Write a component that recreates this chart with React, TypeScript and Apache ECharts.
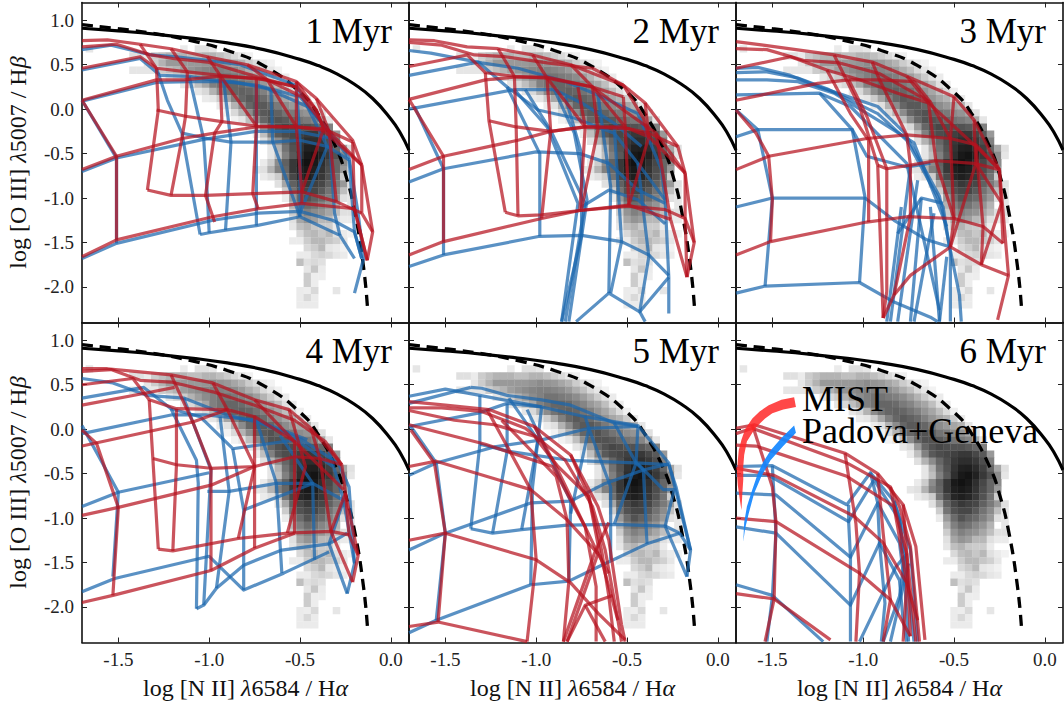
import React, { useEffect, useRef } from "react";
import * as echarts from "echarts";

const xTicks = [-1.5, -1.0, -0.5, 0.0];
const yTicks = [1.0, 0.5, 0.0, -0.5, -1.0, -1.5, -2.0];
const panelLabels = ["1 Myr", "2 Myr", "3 Myr", "4 Myr", "5 Myr", "6 Myr"];

const maxLineX = [-1.7, -1.5, -1.3, -1.1, -0.9, -0.7, -0.5, -0.4, -0.3, -0.2, -0.1, 0.0, 0.05, 0.1];
const maxLineY = [0.91, 0.88, 0.845, 0.8, 0.745, 0.67, 0.56, 0.49, 0.4, 0.28, 0.12, -0.11, -0.26, -0.46];
const sfLineX = [-1.7, -1.5, -1.3, -1.1, -0.9, -0.7, -0.5, -0.4, -0.3, -0.25, -0.2, -0.15, -0.127];
const sfLineY = [0.95, 0.905, 0.85, 0.77, 0.66, 0.49, 0.19, -0.06, -0.44, -0.73, -1.14, -1.78, -2.28];

// density: first column per row, then grey percent. Rows run downward from y = 0.72
const heatFirstCol = [0, 6, 8, 6, 11, 13, 15, 16, 18, 19, 20, 22, 23, 24, 25, 25, 24, 23, 24, 26, 27, 27, 28, 28, 28, 28, 29, 28, 30, 29, 29, 30, 30, 30, 29, 29];
const heatCells = [
  [10, 0, 0, 0, 0, 0, 0, 0, 0, 0, 0, 0, 0, 8, 0, 12, 12, 10],
  [12, 12, 8, 20, 25, 30, 30, 30, 25, 25, 30, 30, 25, 20, 15, 10, 6],
  [10, 20, 30, 40, 40, 40, 40, 40, 42, 45, 42, 40, 35, 30, 20, 14, 8, 5],
  [10, 10, 10, 10, 20, 25, 30, 38, 42, 45, 48, 50, 50, 48, 45, 40, 32, 25, 15, 10, 5],
  [10, 15, 20, 30, 38, 45, 50, 55, 55, 52, 50, 45, 38, 30, 20, 12, 8],
  [10, 15, 25, 35, 50, 55, 60, 60, 58, 52, 48, 40, 35, 25, 12, 8],
  [10, 15, 30, 45, 55, 60, 62, 60, 55, 50, 42, 35, 25, 14, 6],
  [8, 10, 20, 35, 50, 60, 65, 62, 58, 50, 42, 35, 30, 20, 8],
  [8, 12, 30, 45, 60, 65, 65, 60, 52, 45, 40, 35, 30, 10],
  [5, 15, 30, 45, 60, 65, 68, 62, 55, 52, 45, 42, 35, 12],
  [5, 10, 25, 45, 60, 68, 68, 65, 60, 55, 52, 48, 35, 10],
  [10, 15, 40, 60, 68, 72, 70, 68, 68, 65, 60, 50],
  [8, 25, 50, 65, 70, 72, 75, 78, 78, 72, 65, 40],
  [12, 30, 45, 60, 70, 78, 82, 82, 78, 70, 50],
  [10, 30, 55, 68, 80, 87, 88, 83, 75, 60, 35, 12],
  [10, 25, 50, 65, 82, 90, 92, 87, 78, 68, 45, 10],
  [8, 20, 45, 62, 78, 90, 93, 90, 82, 72, 60, 45],
  [10, 12, 30, 50, 60, 78, 88, 90, 88, 80, 70, 60, 40],
  [8, 12, 20, 55, 72, 85, 88, 85, 78, 68, 55, 20],
  [12, 35, 62, 72, 78, 75, 72, 62, 52, 40, 12],
  [20, 55, 68, 72, 72, 65, 55, 45, 25, 10],
  [8, 40, 58, 68, 62, 58, 50, 40, 12, 10],
  [30, 50, 58, 55, 48, 42, 30, 0, 10],
  [20, 42, 50, 45, 42, 35, 25, 12, 12],
  [12, 35, 42, 38, 28, 28, 12, 8, 8],
  [10, 25, 30, 22, 20, 20, 8],
  [15, 25, 28, 22, 28, 12, 8, 5],
  [8, 8, 20, 28, 28, 22, 18, 10],
  [15, 20, 28, 10, 8, 5],
  [8, 8, 15, 18, 15, 10, 8],
  [25, 12, 15, 12],
  [10, 22, 8],
  [20, 7, 7],
  [20, 7],
  [8, 7, 15, 0, 0, 10],
  [8, 15, 8],
];
const heatLast = [[29, 8, 8, 8]];

const panel1Red = [
  [-1.7,.77,-1.56,.78,-1.38,.73,-1.21,.68,-1.01,.59,-.79,.5,-.52,.31,-.41,.12,-.21,-.35,-.16,-.63,-.1,-1.38,-.13,-1.7],
  [-1.7,.7,-1.51,.73,-1.32,.61,-1.2,.57,-1.01,.53,-.68,.33,-.52,.25,-.41,-.01,-.37,-.22],
  [-1.7,.46,-1.38,.59,-1.29,.46,-1.12,.42,-.94,.38,-.68,.33,-.49,.14,-.34,-.25,-.16,-.63],
  [-1.7,.1,-1.29,.33,-1.14,.33,-.94,.37,-.74,.35,-.52,.25],
  [-1.29,-.01,-1.13,-.08,-.93,-.14,-.74,-.19,-.52,-.2,-.37,-.22,-.21,-.37],
  [-1.7,-.68,-1.51,-.53,-1.15,-.33,-.97,-.27,-.74,-.2,-.52,-.2,-.37,-.24,-.16,-.63],
  [-1.34,-.91,-1.21,-.97,-1.02,-.97,-.76,-.95,-.49,-.93,-.3,-1.04,-.16,-1.17],
  [-1.7,-1.66,-1.51,-1.47,-.98,-1.21,-.73,-1.12,-.49,-1.06,-.2,-1.12,-.13,-1.7],
  [-1.7,.1,-1.51,-.53,-1.51,-1.47],
  [-1.29,.46,-1.28,-.01,-1.34,-.91],
  [-1.12,.42,-1.13,-.08,-1.15,-.33,-1.21,-.97],
  [-.94,.38,-.93,-.14,-.97,-.27,-1.02,-.97,-.97,-1.27],
  [-.74,.35,-.74,-.19,-.76,-.95,-.73,-1.12],
  [-.52,.31,-.52,-.2,-.49,-.93,-.49,-1.06],
  [-1.38,.73,-1.29,.46],
  [-1.21,.68,-1.12,.42],
  [-1.01,.59,-.94,.38,-.74,-.19],
  [-.79,.5,-.68,.33,-.52,-.2],
  [-.52,.31,-.41,-.01,-.37,-.22,-.49,-.93],
  [-.41,.12,-.34,-.25,-.3,-1.04],
  [-.16,-.63,-.16,-1.17,-.1,-1.38],
  [-.21,-.37,-.2,-1.12,-.13,-1.7],
];
const panel1Blue = [
  [-1.7,.67,-1.54,.72,-1.32,.61,-1.18,.59,-1.01,.55,-.83,.5,-.52,.27,-.46,.03,-.34,-.25,-.23,-.55,-.18,-1.17,-.15,-1.68,-.2,-2.07],
  [-1.7,.44,-1.38,.57,-1.27,.38,-1.11,.37,-.92,.31,-.74,.27,-.5,.14,-.34,-.25],
  [-1.7,.09,-1.29,.3,-1.11,.31,-.87,.31,-.68,.23,-.46,.03],
  [-1.15,-.27,-1.01,-.33,-.88,-.37,-.65,-.37,-.5,-.35,-.35,-.42,-.23,-.57],
  [-1.7,-.7,-1.51,-.55,-1.03,-.34,-.74,-.25,-.52,-.25,-.32,-.33],
  [-1.05,-1.41,-1,-1.39,-.91,-1.36,-.74,-1.31,-.5,-1.21,-.28,-1.42,-.2,-1.68],
  [-1.7,-1.68,-1.51,-1.51,-.98,-1.25,-.73,-1.17,-.5,-1.15,-.32,-1.25,-.2,-1.38,-.16,-1.68],
  [-1.29,.46,-1.23,.1,-1.15,-.27,-1.05,-1.41],
  [-1.11,.37,-1.03,-.34,-1.01,-.97,-1,-1.39],
  [-.92,.31,-.88,-.37,-.91,-1.36],
  [-.74,.27,-.74,-.25,-.74,-1.31],
  [-.66,.22,-.65,-.37,-.5,-1.21],
  [-.52,.27,-.5,-.35,-.5,-1.21],
  [-.46,.03,-.35,-.42,-.5,-1.17],
  [-.34,-.25,-.31,-1.17,-.28,-1.42],
  [-.23,-.57,-.2,-1.38,-.16,-1.68],
  [-1.51,-.55,-1.51,-1.51],
  [-1.7,.1,-1.51,-.55],
];

const panel2Red = [
  [-1.7,.78,-1.56,.77,-1.38,.7,-1.21,.68,-1.02,.61,-.81,.5,-.52,.27,-.4,.07,-.22,-.42,-.18,-.72,-.13,-1.5,-.17,-1.89],
  [-1.7,.75,-1.52,.72,-1.34,.61,-1.17,.59,-.94,.52,-.69,.46,-.52,.27],
  [-1.7,.48,-1.38,.61,-1.28,.41,-1.12,.37,-.94,.35,-.69,.25,-.52,-.01,-.34,-.27,-.18,-.72],
  [-1.7,.11,-1.28,.33,-1.12,.36,-.94,.36,-.69,.25,-.52,.14],
  [-1.26,-.13,-1.11,-.2,-.92,-.25,-.73,-.2,-.53,-.2,-.38,-.27,-.22,-.42],
  [-1.7,-.68,-1.51,-.53,-1.1,-.35,-.92,-.25,-.73,-.2,-.49,-.22,-.38,-.31,-.18,-.72],
  [-1.17,-1.16,-1.1,-1.2,-.97,-1.19,-.76,-1.14,-.49,-1.08,-.26,-1.24],
  [-1.7,-1.64,-1.51,-1.49,-.97,-1.23,-.76,-1.14,-.49,-1.09,-.29,-1.13,-.18,-1.23,-.17,-1.89],
  [-1.7,.11,-1.51,-.53,-1.51,-1.49],
  [-1.28,.41,-1.26,-.13,-1.17,-1.16],
  [-1.12,.37,-1.11,-.2,-1.1,-1.2],
  [-.94,.35,-.92,-.25,-.97,-1.23],
  [-.77,.25,-.73,-.2,-.76,-1.14],
  [-.69,.25,-.66,-.23,-.75,-1.12],
  [-.52,.14,-.51,-.2,-.49,-1.08],
  [-.4,.07,-.38,-.31,-.49,-1.08],
  [-.34,-.27,-.26,-1.24,-.17,-1.89],
  [-.18,-.72,-.18,-1.23,-.13,-1.5],
  [-1.21,.68,-1.12,.37],
  [-1.02,.61,-.94,.35,-.73,-.2],
  [-.81,.5,-.69,.25,-.51,-.2],
  [-.52,.27,-.41,-.1,-.38,-.31],
];
const panel2Blue = [
  [-1.7,.66,-1.58,.63,-1.3,.52,-1.1,.46,-.84,.31,-.66,.16,-.44,-.05,-.31,-.68,-.29,-1.02,-.27,-1.89,-.27,-2.3],
  [-1.7,.38,-1.32,.53,-1.16,.25,-.99,-.01,-.79,-.1,-.57,-.27,-.44,-.61,-.29,-1.02],
  [-1.7,0,-1.12,.22,-.9,.22,-.75,.07,-.57,-.16,-.42,-.42],
  [-1.7,-.82,-1.51,-.67,-1,-.48,-.76,-.5,-.6,-.61,-.44,-.91,-.29,-1.06],
  [-1.7,-1.77,-1.51,-1.64,-.98,-1.43,-.75,-1.42,-.53,-1.49,-.38,-1.64,-.27,-1.87],
  [-.78,-2.39,-.6,-2.07,-.43,-2.28,-.27,-1.89],
  [-.75,-1.1,-.6,-.91,-.44,-1.02,-.29,-1.29],
  [-1.67,.03,-1.51,-.67,-1.51,-1.64],
  [-1.16,.25,-.98,-.5,-.98,-1.43],
  [-1.12,.22,-.94,-.2,-.77,-1.06,-.86,-2.39],
  [-1.06,.22,-.92,-.24,-.73,-1.06,-.84,-2.39],
  [-.9,.22,-.79,-.27,-.72,-1.02,-.82,-2.39],
  [-.84,.14,-.75,-.5,-.75,-1.42,-.86,-2.39],
  [-.66,.16,-.59,-.87,-.6,-2.07],
  [-.57,-.2,-.53,-1.49,-.59,-2.07],
  [-.44,-.61,-.38,-1.66,-.43,-2.28],
  [-.43,-2.28,-.4,-2.39],
];

const panel3Red = [
  [-1.7,.76,-1.55,.72,-1.37,.67,-1.16,.61,-.95,.53,-.76,.37,-.5,.14,-.39,-.12,-.25,-.68,-.2,-1.87,-.26,-2.37],
  [-1.7,.68,-1.53,.67,-1.33,.55,-1.13,.52,-.91,.4,-.63,.08,-.52,-.33],
  [-1.7,.46,-1.4,.59,-1.2,.44,-1.02,.33,-.81,.18,-.64,.07,-.39,-.4,-.25,-.68],
  [-1.7,.1,-1.25,.29,-1.08,.33,-.91,.33,-.72,.31,-.63,.08],
  [-.92,-.63,-.87,-.67,-.74,-.63,-.6,-.58,-.39,-.61,-.25,-.68],
  [-1.7,-.68,-1.52,-.53,-.98,-.33,-.76,-.29,-.52,-.33,-.38,-.4,-.25,-.68],
  [-1.7,-1.64,-1.51,-1.49,-.98,-1.27,-.76,-1.21,-.5,-1.23,-.34,-1.32,-.23,-1.51],
  [-.89,-2.35,-.83,-2.09,-.74,-1.87,-.52,-1.55,-.35,-1.75,-.2,-1.87],
  [-1.7,-.01,-1.59,-.27,-1.52,-.53,-1.5,-1.02,-1.51,-1.49],
  [-1.2,.44,-1.07,-.05,-.97,-.35,-.97,-1.27],
  [-1.16,.61,-1.02,.03,-.92,-.63,-.89,-2.35],
  [-1.08,.33,-.98,-.08,-.87,-.67,-.87,-2.05,-.89,-2.35],
  [-.95,.53,-.91,.33,-.76,-.29,-.74,-.63,-.74,-1.21,-.83,-2.09],
  [-.76,.37,-.64,.07,-.6,-.58,-.5,-1.23,-.52,-1.55],
  [-.5,.14,-.52,-.33,-.5,-1.23],
  [-.39,-.12,-.38,-.61,-.52,-1.55],
  [-.38,-.4,-.34,-1.32,-.35,-1.75],
  [-.25,-.68,-.24,-1.07,-.35,-1.75],
  [-.38,-.61,-.24,-1.05,-.23,-1.51],
];
const panel3Blue = [
  [-1.7,.46,-1.58,.47,-1.4,.38,-1.24,.25,-.92,.03,-.77,-.27,-.58,-.98,-.47,-2.09,-.46,-2.39],
  [-1.7,.41,-1.53,.42,-1.36,.35,-1.2,.23,-.92,-.05,-.76,-.35,-.56,-1.1,-.52,-1.62,-.52,-2.39],
  [-1.7,.33,-1.53,.33,-1.36,.31,-1.16,.18,-.89,-.16,-.72,-.38,-.54,-1.32],
  [-1.7,.16,-1.24,.18,-1.07,.03,-.76,-.61,-.58,-2.26],
  [-1.7,-.31,-1.58,-.23,-1.06,-.23,-.98,-.53,-.76,-.65,-.63,-.61],
  [-1.7,-1.1,-1.5,-1,-.99,-1,-.83,-1.25,-.65,-1.47,-.52,-1.55],
  [-1.7,-2.07,-1.54,-1.99,-1.02,-1.95,-.83,-2.17,-.63,-2.34,-.59,-2.39],
  [-.81,-1.4,-.68,-1,-.56,-1.06],
  [-1.7,-.01,-1.58,-.23,-1.5,-1,-1.54,-1.99],
  [-1.24,.18,-1.06,-.23,-.99,-.99,-1.02,-1.95],
  [-.79,-1.1,-.87,-2.39],
  [-.74,-.65,-.85,-2.39],
  [-.7,-.8,-.81,-2.39],
  [-.68,-1,-.74,-2.39],
  [-.63,-1.1,-.58,-2.39],
  [-.61,-1.17,-.72,-2.39],
  [-.54,-1.66,-.58,-2.39],
];

const panel4Red = [
  [-1.7,.68,-1.56,.68,-1.41,.65,-1.21,.61,-.98,.52,-.75,.33,-.56,.22,-.44,.01,-.27,-.4,-.25,-.72,-.18,-1.42,-.21,-1.72],
  [-1.7,.65,-1.54,.67,-1.38,.55,-1.21,.53,-.98,.42,-.75,.27,-.53,.1,-.36,-.14,-.27,-.4],
  [-1.7,.5,-1.42,.57,-1.33,.33,-1.18,.23,-.9,.22,-.75,.14,-.53,-.14,-.26,-.68],
  [-1.7,.27,-1.34,.41,-1.19,.47],
  [-1.7,-.19,-1.09,.08,-.9,.22],
  [-1.31,-.33,-1.18,-.4,-.99,-.44,-.75,-.42,-.53,-.31,-.39,-.33,-.27,-.4],
  [-1.7,-.97,-1.5,-.88,-.99,-.63,-.75,-.42],
  [-1.28,-1.35,-1.2,-1.37,-.84,-1.23,-.57,-1.17,-.33,-1.15,-.23,-1.19],
  [-1.7,-1.95,-1.53,-1.87,-.99,-1.59,-.75,-1.34,-.53,-1.17],
  [-1.7,-.01,-1.62,-.16,-1.5,-.88,-1.53,-1.87],
  [-1.33,.33,-1.31,-.33,-1.28,-1.35],
  [-1.18,.23,-1.18,-.4,-1.2,-1.37],
  [-1.09,.08,-.99,-.44,-.99,-1.59],
  [-.9,.22,-.75,-.42,-.84,-1.23],
  [-.75,.15,-.75,-.42,-.75,-1.34],
  [-1.21,.61,-1.09,.08],
  [-.98,.52,-.9,.22],
  [-.75,.33,-.53,-.14,-.53,-.31,-.53,-1.17],
  [-.56,.22,-.47,-.42,-.57,-1.17],
  [-.44,.01,-.39,-.33,-.33,-1.15,-.21,-1.72],
  [-.25,-.72,-.33,-1.15],
  [-.25,-.72,-.23,-1.19,-.18,-1.42],
];
const panel4Blue = [
  [-1.7,.57,-1.53,.52,-1.34,.38,-1.14,.35,-.9,.16,-.72,.07,-.49,-.12,-.29,-.38,-.23,-.65,-.2,-1.51,-.24,-1.85],
  [-1.7,.35,-1.36,.47,-1.21,.23,-1.05,.14,-.87,-.22,-.52,-.12,-.32,-.42],
  [-1.7,-.05,-1.21,.16,-1.02,.16,-.74,.1,-.46,-.12],
  [-1.7,-.87,-1.5,-.71,-1,-.49],
  [-1.01,-.7,-.89,-.7,-.63,-.61,-.43,-.61,-.26,-.8],
  [-.81,-.91,-.43,-.61],
  [-1.7,-1.83,-1.52,-1.68,-1,-1.43,-.81,-1.81,-.59,-1.62,-.34,-1.38],
  [-1.07,-2.02,-1.03,-1.98,-.96,-1.79,-.81,-1.53,-.6,-1.36,-.34,-1.29,-.24,-1.17],
  [-1.7,.04,-1.5,-.71,-1.53,-1.66],
  [-1.21,.23,-1.07,-.35,-1.06,-.61,-1.07,-2.02],
  [-1.14,.35,-.99,-.46,-1.03,-1.98],
  [-.94,.14,-.89,-.7,-.96,-1.79],
  [-.87,-.22,-.81,-.91,-.81,-1.81],
  [-.74,.1,-.63,-.61,-.6,-1.62],
  [-.61,-.07,-.43,-.61,-.42,-1.47],
  [-.34,-.25,-.26,-.8,-.34,-1.29,-.24,-1.85],
  [-.26,-.8,-.2,-1.51],
];

const panel5Blue = [
  [-1.7,.37,-1.5,.45,-1.31,.38,-.97,.25,-.73,.14,-.44,.04,-.27,-.38,-.15,-1.36,-.17,-1.66],
  [-1.36,.47,-1.3,.46,-1.16,.38,-.97,.33,-.81,.27,-.57,.07,-.44,.03],
  [-1.7,.29,-1.36,.47],
  [-1.7,.03,-1.32,.18,-1.16,.29,-.97,.25],
  [-1.31,-.17,-1.15,-.25,-.82,-.35,-.45,-.38,-.27,-.4],
  [-1.7,-.52,-1.55,-.38,-1.23,-.2,-.97,-.12,-.71,.01,-.44,.03],
  [-1.36,-1.12,-1.24,-1.17,-1.08,-1.13,-.83,-1.08,-.57,-1.07,-.29,-1.09,-.21,-1.17],
  [-1.7,-1.36,-1.5,-1.17,-1.03,-.83,-.81,-.81,-.62,-.61,-.41,-.46,-.27,-.39],
  [-1.7,-2.29,-1.55,-2.15,-1.03,-1.75,-.82,-1.71,-.66,-1.55,-.39,-1.29,-.21,-1.17],
  [-1.69,.03,-1.55,-.38,-1.5,-1.17,-1.55,-2.15],
  [-1.31,.38,-1.31,-.17,-1.36,-1.12],
  [-1.16,.29,-1.16,-.25,-1.24,-1.17],
  [-1.15,.35,-.99,-.12,-1.08,-1.13],
  [-.97,.25,-1.02,-.65,-1.03,-1.75],
  [-1.05,.22,-.81,-.81,-.82,-1.71],
  [-.73,.14,-.71,.01,-.81,-.95],
  [-.71,.01,-.59,-.65,-.59,-1.47],
  [-.57,.07,-.45,-.38,-.57,-1.07],
  [-.44,.03,-.45,-.38,-.41,-.46,-.39,-1.29],
  [-.44,-.39,-.3,-.68,-.24,-.68,-.29,-1.09],
  [-.27,-.4,-.23,-.65,-.15,-1.36],
  [-.29,-1.09,-.17,-1.66],
  [-.21,-1.17,-.15,-1.36],
];
const panel5Red = [
  [-1.7,.31,-1.5,.27,-1.26,.22,-1.01,.03,-.81,-.29,-.66,-.87,-.6,-1.25,-.53,-2.2,-.51,-2.39],
  [-1.7,.24,-1.52,.24,-1.3,.2,-1.06,.01,-.84,-.35,-.69,-.87,-.62,-1.36,-.55,-2.15,-.53,-2.39],
  [-1.7,.21,-1.45,.1,-1.23,.05,-1.01,-.08,-.88,-.42,-.71,-.76,-.64,-1.36,-.6,-1.88,-.57,-2.39],
  [-1.7,.05,-1.28,-.17,-.91,-.42,-.73,-1.1,-.66,-1.4],
  [-1.7,-.42,-1.55,-.36,-1.03,-.68,-.83,-1.02,-.66,-1.4,-.6,-1.62],
  [-1.7,-1.25,-1.5,-1.17,-1,-1.47,-.81,-1.73,-.66,-2.07,-.51,-2.37],
  [-1.7,-2.22,-1.54,-2.17,-1.05,-2.39],
  [-.83,-2.39,-.73,-1.98,-.58,-1.87],
  [-.85,-2.39,-.68,-1.4,-.6,-1.05],
  [-.83,-2.39,-.66,-1.4],
  [-1.69,-.01,-1.56,-.38,-1.5,-1.17,-1.54,-2.17],
  [-1.27,.22,-1.03,-.68,-1,-1.47,-1.05,-2.39],
  [-1.19,.1,-.89,-.53,-.83,-1.02,-.82,-1.71,-.85,-2.39],
  [-1.01,.03,-.9,-.38,-.73,-1.1,-.67,-1.77,-.67,-2.39],
  [-.81,-.29,-.71,-.76,-.65,-1.4,-.55,-2.15],
  [-.73,-1.98,-.62,-2.39],
];

const panel6Red = [
  [-1.7,.01,-1.6,.05,-1.1,-.27,-.92,-.5,-.78,-.85,-.71,-1.32,-.66,-2.37],
  [-1.7,-.05,-1.61,.01,-1.09,-.38,-.85,-.65,-.8,-.87,-.74,-1.32,-.69,-2.39],
  [-1.7,-.18,-1.59,-.19,-1.09,-.53,-.83,-.87,-.76,-1.4,-.71,-2.39],
  [-1.7,-.44,-1.49,-.52,-1.05,-.98,-.89,-1.28,-.76,-1.73,-.7,-2.15],
  [-1.7,-1,-1.48,-1.04,-1.02,-1.62,-.85,-1.92,-.74,-2.33],
  [-1.7,-1.85,-1.49,-1.91,-1.18,-2.37],
  [-1.61,.05,-1.5,-.65,-1.48,-1.04,-1.49,-1.91,-1.54,-2.39],
  [-1.1,-.27,-1.04,-1.06,-1.02,-1.62,-1.04,-2.39],
  [-.92,-.5,-.89,-1.17,-.85,-1.92,-.89,-2.39],
  [-.78,-.85,-.76,-1.4,-.74,-2.33],
  [-.85,-.65,-.81,-1.1,-.76,-1.73,-.78,-2.39],
];
const panel6Blue = [
  [-1.7,-.42,-1.5,-.41,-1.09,-.85,-.96,-.49,-.83,-.81,-.74,-1.36,-.7,-2.39],
  [-1.7,-.52,-1.52,-.52,-1.08,-1.04,-.94,-.57,-.8,-1.02,-.76,-1.62,-.72,-2.39],
  [-1.7,-.72,-1.48,-.74,-1.07,-1.44,-.92,-.83,-.8,-1.28,-.77,-1.77,-.75,-2.39],
  [-1.7,-1.1,-1.48,-1.17,-1.07,-1.98,-.91,-1.28,-.8,-1.7,-.78,-2.15,-.76,-2.39],
  [-1.7,-1.75,-1.5,-1.87,-1.22,-2.39],
  [-1.02,-2.39,-.91,-1.92,-.82,-1.55,-.76,-1.4],
  [-.89,-2.39,-.8,-1.88,-.77,-1.43],
  [-.85,-2.39,-.78,-1.77,-.75,-1.51],
  [-1.5,-.41,-1.48,-1.17,-1.5,-1.89,-1.53,-2.39],
  [-1.08,-.85,-1.08,-1.04,-1.07,-1.44,-1.07,-2.39],
  [-.96,-.49,-.92,-.83,-.91,-1.28,-.88,-1.96,-.9,-2.39],
  [-.83,-.81,-.8,-1.02,-.78,-1.4],
];

const panelRed = [panel1Red, panel2Red, panel3Red, panel4Red, panel5Red, panel6Red];
const panelBlue = [panel1Blue, panel2Blue, panel3Blue, panel4Blue, panel5Blue, panel6Blue];

const mistWedge = [-1.38,.36,-1.45,.33,-1.52,.27,-1.57,.2,-1.61,.12,-1.65,0,-1.67,-.12,-1.685,-.24,-1.69,-.35,-1.695,-.5,-1.69,-.63,-1.68,-.78,-1.67,-.91,-1.665,-.72,-1.66,-.57,-1.66,-.42,-1.655,-.29,-1.64,-.14,-1.61,-.04,-1.58,.04,-1.54,.12,-1.5,.18,-1.44,.22,-1.37,.25];
const padovaWedge = [-1.38,.04,-1.37,-.04,-1.44,-.19,-1.51,-.35,-1.56,-.53,-1.6,-.72,-1.63,-.95,-1.65,-1.12,-1.66,-1.27,-1.655,-1.05,-1.64,-.87,-1.61,-.68,-1.58,-.5,-1.55,-.37,-1.51,-.24,-1.45,-.1];

const SERIF = "'Liberation Serif', serif";
const RED = "#b5121f";
const BLUE = "#1a66ad";
const CELL_W = 0.04;
const CELL_H = 0.08;

const GRID_W = 327;
const GRID_H = 320;
const gridLeft = [82, 409, 736];
const gridTop = [2.5, 322.5];

const pairs = (flat: number[]) => {
  const out: number[][] = [];
  for (let i = 0; i < flat.length; i += 2) out.push([flat[i], flat[i + 1]]);
  return out;
};

const heatData = () => {
  const out: number[][] = [];
  const rows = heatCells.concat(heatLast.map((r) => r.slice(1)));
  const firsts = heatFirstCol.concat(heatLast.map((r) => r[0]));
  rows.forEach((row, r) => {
    row.forEach((v, c) => {
      if (v > 0) out.push([-1.68 + CELL_W * (firsts[r] + c), 0.72 - CELL_H * (r + 1), v]);
    });
  });
  return out;
};

const buildOption = () => {
  const grid: any[] = [];
  const xAxis: any[] = [];
  const yAxis: any[] = [];
  const series: any[] = [];
  const graphic: any[] = [];
  const heat = heatData();

  const axisLine = { show: true, onZero: false, lineStyle: { color: "#111", width: 1.6 } };
  const tick = (vals: number[]) => ({
    show: true, inside: true, length: 5, customValues: vals, lineStyle: { color: "#222", width: 1 },
  });
  const labelStyle = { fontFamily: SERIF, fontSize: 19, color: "#222" };
  const fmt = (v: number) => v.toFixed(1);
  const nameRich = { i: { fontFamily: SERIF, fontStyle: "italic", fontSize: 24, color: "#111" } };
  const nameStyle = { fontFamily: SERIF, fontSize: 24, color: "#111", rich: nameRich };

  for (let i = 0; i < 6; i++) {
    const col = i % 3;
    const row = Math.floor(i / 3);
    grid.push({ left: gridLeft[col], top: gridTop[row], width: GRID_W, height: GRID_H, containLabel: false });
    const common = { type: "value", gridIndex: i, min: -1.7, max: 0.1, splitLine: { show: false }, axisLine, axisTick: tick(xTicks) };
    xAxis.push({
      ...common, position: "bottom",
      axisLabel: row === 1
        ? { show: true, customValues: xTicks, formatter: fmt, margin: 7, ...labelStyle }
        : { show: false },
      ...(row === 1
        ? { name: "log [N II] {i|λ}6584 / H{i|α}", nameLocation: "middle", nameGap: 33, nameTextStyle: nameStyle }
        : {}),
    });
    xAxis.push({ ...common, position: "top", axisLabel: { show: false } });
    const yCommon = { type: "value", gridIndex: i, min: -2.4, max: 1.2, splitLine: { show: false }, axisLine, axisTick: tick(yTicks) };
    yAxis.push({
      ...yCommon, position: "left",
      axisLabel: col === 0
        ? { show: true, customValues: yTicks, formatter: fmt, margin: 8, ...labelStyle }
        : { show: false },
      ...(col === 0
        ? { name: "log [O III] {i|λ}5007 / H{i|β}", nameLocation: "middle", nameGap: 52, nameTextStyle: nameStyle }
        : {}),
    });
    yAxis.push({ ...yCommon, position: "right", axisLabel: { show: false } });

    const xi = i * 2;
    const yi = i * 2;
    series.push({
      type: "custom", xAxisIndex: xi, yAxisIndex: yi, clip: true, silent: true,
      data: heat, encode: { x: 0, y: 1 },
      renderItem: (_p: any, api: any) => {
        const x = api.value(0);
        const y = api.value(1);
        const g = Math.round(255 * (1 - api.value(2) / 100));
        const a = api.coord([x, y + CELL_H]);
        const b = api.coord([x + CELL_W, y]);
        return {
          type: "rect",
          shape: { x: a[0], y: a[1], width: b[0] - a[0] + 0.3, height: b[1] - a[1] + 0.3 },
          style: { fill: `rgb(${g},${g},${g})` },
        };
      },
    });
    series.push({
      type: "line", xAxisIndex: xi, yAxisIndex: yi, silent: true, showSymbol: false,
      data: maxLineX.map((x, k) => [x, maxLineY[k]]), smooth: true,
      lineStyle: { color: "#000", width: 3.2 },
    });
    series.push({
      type: "line", xAxisIndex: xi, yAxisIndex: yi, silent: true, showSymbol: false,
      data: sfLineX.map((x, k) => [x, sfLineY[k]]), smooth: true,
      lineStyle: { color: "#000", width: 3.3, type: [11, 7] },
    });
    const addLines = (list: number[][], color: string) => {
      list.forEach((flat) => {
        series.push({
          type: "line", xAxisIndex: xi, yAxisIndex: yi, silent: true, showSymbol: false,
          data: pairs(flat), lineStyle: { color, width: 3.2, opacity: 0.72, join: "round" },
        });
      });
    };
    addLines(panelBlue[i], BLUE);
    addLines(panelRed[i], RED);

    graphic.push({
      type: "text", z: 50, silent: true,
      style: {
        text: panelLabels[i], x: gridLeft[col] + 310, y: gridTop[row] + 29,
        fontFamily: SERIF, fontSize: 35, fill: "#000", textAlign: "right", textVerticalAlign: "middle",
      },
    });
  }

  const wedge = (flat: number[], fill: string) => ({
    type: "custom", xAxisIndex: 10, yAxisIndex: 10, clip: true, silent: true, z: 4,
    data: [pairs(flat).flat()],
    renderItem: (_p: any, api: any) => ({
      type: "polygon",
      shape: { points: pairs(flat).map((p) => api.coord(p)) },
      style: { fill },
    }),
  });
  series.push(wedge(mistWedge, "rgba(255,40,40,0.85)"));
  series.push(wedge(padovaWedge, "rgba(20,135,255,0.92)"));

  graphic.push({
    type: "text", z: 50, silent: true,
    style: {
      text: "MIST\nPadova+Geneva", x: 802, y: 415,
      fontFamily: SERIF, fontSize: 36, lineHeight: 32, fill: "#000", textAlign: "left", textVerticalAlign: "middle",
    },
  });

  return { animation: false, backgroundColor: "#fff", grid, xAxis, yAxis, series, graphic };
};

export default function App() {
  const ref = useRef<HTMLDivElement>(null);
  useEffect(() => {
    document.body.style.margin = "0";
    const chart = echarts.init(ref.current!, null, { renderer: "svg" });
    chart.setOption(buildOption() as any);
    return () => chart.dispose();
  }, []);
  return <div ref={ref} style={{ width: 1064, height: 704 }} />;
}
